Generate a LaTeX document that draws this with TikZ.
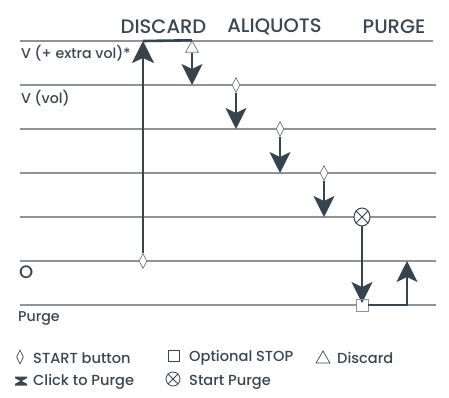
\documentclass[tikz,border=0pt]{standalone}
\usepackage{fontspec}
\setmainfont{Poppins}[UprightFont=* Medium, BoldFont=* SemiBold]
\usetikzlibrary{arrows.meta,shapes.geometric}

\definecolor{slate}{HTML}{37444E}
\definecolor{rulegray}{HTML}{8D959B}
\definecolor{txtgray}{HTML}{3C4650}
\definecolor{markgray}{HTML}{6E7880}

\tikzset{
  level/.style={rulegray, line width=1.1pt},
  hdr/.style={txtgray, font=\fontsize{19.5}{22}\selectfont, inner sep=0pt},
  lbl/.style={txtgray, font=\fontsize{14.2}{16}\selectfont, anchor=west, inner sep=0pt},
  leg/.style={txtgray, font=\fontsize{14.6}{16}\selectfont, anchor=west, inner sep=0pt},
  startmark/.style={diamond, draw=markgray, fill=white, line width=.7pt,
    minimum width=8pt, minimum height=15pt, inner sep=0pt},
  stopmark/.style={rectangle, draw=markgray!80, fill=white, line width=.7pt,
    minimum size=12pt, inner sep=0pt},
  discmark/.style={regular polygon, regular polygon sides=3, draw=markgray,
    fill=white, line width=.7pt, minimum size=15pt, inner sep=0pt},
  purgemark/.style={ellipse, draw=slate, fill=white, line width=1pt,
    minimum width=16pt, minimum height=18pt, inner sep=0pt},
  flow/.style={draw=slate, line width=2pt, -{Stealth[length=21pt,width=21pt,inset=5pt]}},
  bigflow/.style={draw=slate, line width=2.6pt, -{Stealth[length=22pt,width=22pt,inset=5pt]}}
}

\begin{document}
\begin{tikzpicture}[x=1pt,y=-1pt]
  \useasboundingbox (0,0) rectangle (449,398);

  % levels
  \foreach \y in {85,129,...,305}
    \draw[level] (20,\y) -- (436,\y);
  \draw[level] (20,41) -- (433,41);

  % headers and level names
  \node[hdr] (discard)  at (163.5,27) {DISCARD};
  \node[hdr] (aliquots) at (274.5,27) {ALIQUOTS};
  \node[hdr] (purge)    at (394,27)   {PURGE};
  \node[lbl] (vextra) at (21,53)  {V (+ extra vol)*};
  \node[lbl] (vvol)   at (21,98)  {V (vol)};
  \node[lbl, font=\fontsize{18}{20}\selectfont] (zero) at (19,272) {O};
  \node[lbl] (purgelvl) at (18,318) {Purge};

  % arrow ends
  \coordinate (c0) at (143,41);
  \coordinate (c1) at (192,85);
  \coordinate (c2) at (236,129);
  \coordinate (c3) at (280,173);
  \coordinate (c4) at (324,217);
  \coordinate (c5) at (407,261);

  % markers
  \begin{scope}
    \node[startmark] (s0) at (143,261) {};
    \node[discmark]  (t1) at (192,48.5) {};
    \node[startmark] (s1) at (236,85)  {};
    \node[startmark] (s2) at (280,129) {};
    \node[startmark] (s3) at (324,173) {};
    \node[stopmark]  (q1) at (362,305) {};
  \end{scope}

  % steps
  \begin{scope}[every edge/.style={draw}]
    \path (s0) edge[bigflow] (c0);
    \draw[slate, line width=2.6pt] (c0) -- (t1.north);
    \path (t1) edge[flow] (c1);
    \path (s1) edge[flow] (c2);
    \path (s2) edge[flow] (c3);
    \path (s3) edge[flow] (c4);
  \end{scope}

  \draw[flow] (362,226) -- (362,303);
  \node[purgemark] (p1) at (362,217) {};
  \draw[slate, line width=.8pt] (p1.45) -- (p1.225) (p1.135) -- (p1.315);
  \node[stopmark, fill=none] at (q1) {};
  \draw[flow] (q1.east) -| (c5);

  % legend
  \node[startmark, draw=txtgray, minimum width=7pt, minimum height=14pt] (ls) at (20,357) {};
  \node[leg] (lstart) at (33,358) {START button};
  \node[stopmark, draw=txtgray, minimum size=11pt] (lq) at (174,356) {};
  \node[leg] (lstop) at (189,358) {Optional STOP};
  \node[discmark, draw=txtgray, minimum size=16pt] (lt) at (323,359) {};
  \node[leg] (ldisc) at (337,358) {Discard};
  \fill[txtgray] (15,376.5) -- (27,376.5) -- (27,378.2) -- (21.6,381) -- (27,383.8)
    -- (27,385.5) -- (15,385.5) -- (15,383.8) -- (20.4,381) -- (15,378.2) -- cycle;
  \node[leg] (lclick) at (33,382) {Click to Purge};
  \node[circle, draw=txtgray, line width=.8pt, minimum width=14pt, inner sep=0pt] (lp) at (173,379) {};
  \draw[txtgray, line width=.8pt] (lp.45) -- (lp.225) (lp.135) -- (lp.315);
  \node[leg] (lpurge) at (189,382) {Start Purge};
\end{tikzpicture}
\end{document}
